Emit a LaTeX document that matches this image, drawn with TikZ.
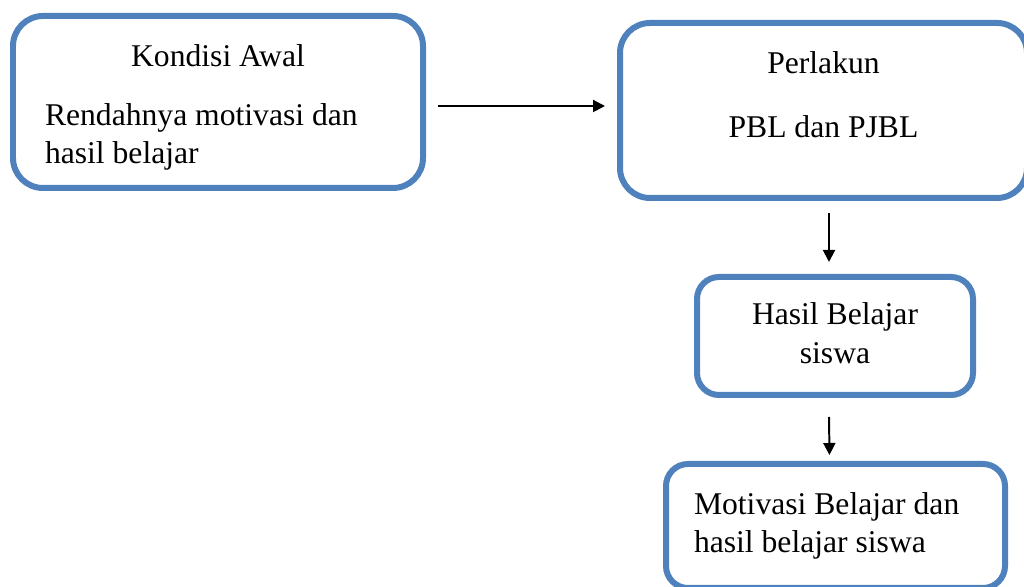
\documentclass[tikz,border=0pt]{standalone}
\usepackage{fontspec}
\setmainfont{Liberation Serif}
\usetikzlibrary{arrows.meta}

\definecolor{biru}{RGB}{79,129,189}

\begin{document}
\begin{tikzpicture}[
	font=\fontsize{22.5}{27.5}\selectfont,
	kotak/.style={draw=biru, line width=0.15cm, rounded corners=0.75cm, inner sep=0pt},
	kotakkecil/.style={kotak, rounded corners=0.55cm},
	panah/.style={-{Triangle[length=3mm, width=3mm]}, line width=1.4pt}
	]
	
	% Batas gambar
	\useasboundingbox (0, 0) rectangle (25.6, 14.675);
	
	% Kotak kondisi awal
	\node[kotak, minimum width=10.25cm, minimum height=4.3cm, text width=8.65cm] (awal) at (5.45, 12.125)
		{\spaceskip=0pt\xspaceskip=0pt\centering\rule{0pt}{24pt}Kondisi Awal\par\vspace{14pt}\raggedright Rendahnya motivasi dan\\hasil belajar\par};
	
	% Kotak perlakuan
	\node[kotak, minimum width=10.175cm, minimum height=4.375cm, align=center] (perlakuan) at (20.5875, 11.9125)
		{Perlakun\\[18pt]PBL dan PJBL\rule[-23pt]{0pt}{23pt}};
	
	% Kotak hasil belajar
	\node[kotakkecil, minimum width=6.9cm, minimum height=2.95cm, align=center] (hasil) at (20.875, 6.275)
		{Hasil Belajar\\siswa\rule[-4pt]{0pt}{4pt}};
	
	% Kotak motivasi dan hasil belajar
	\node[kotakkecil, minimum width=8.475cm, minimum height=3.1cm, text width=7.075cm] (motivasi) at (20.8875, 1.525)
		{\spaceskip=0pt\xspaceskip=0pt\raggedright Motivasi Belajar dan\\hasil belajar siswa\par};
	
	% Panah antar kotak
	\draw[panah] ([xshift=3mm, yshift=-1mm]awal.east) -- ([xshift=-3mm, yshift=-1mm]awal.east -| perlakuan.west);
	\draw[panah] ([xshift=-1.5mm, yshift=-3mm]hasil.north |- perlakuan.south) -- ([xshift=-1.5mm, yshift=3mm]hasil.north);
	\draw[panah] ([xshift=-1.5mm, yshift=-4.75mm]hasil.south) -- ([xshift=-1.5mm, yshift=1.5mm]motivasi.north);
\end{tikzpicture}
\end{document}
